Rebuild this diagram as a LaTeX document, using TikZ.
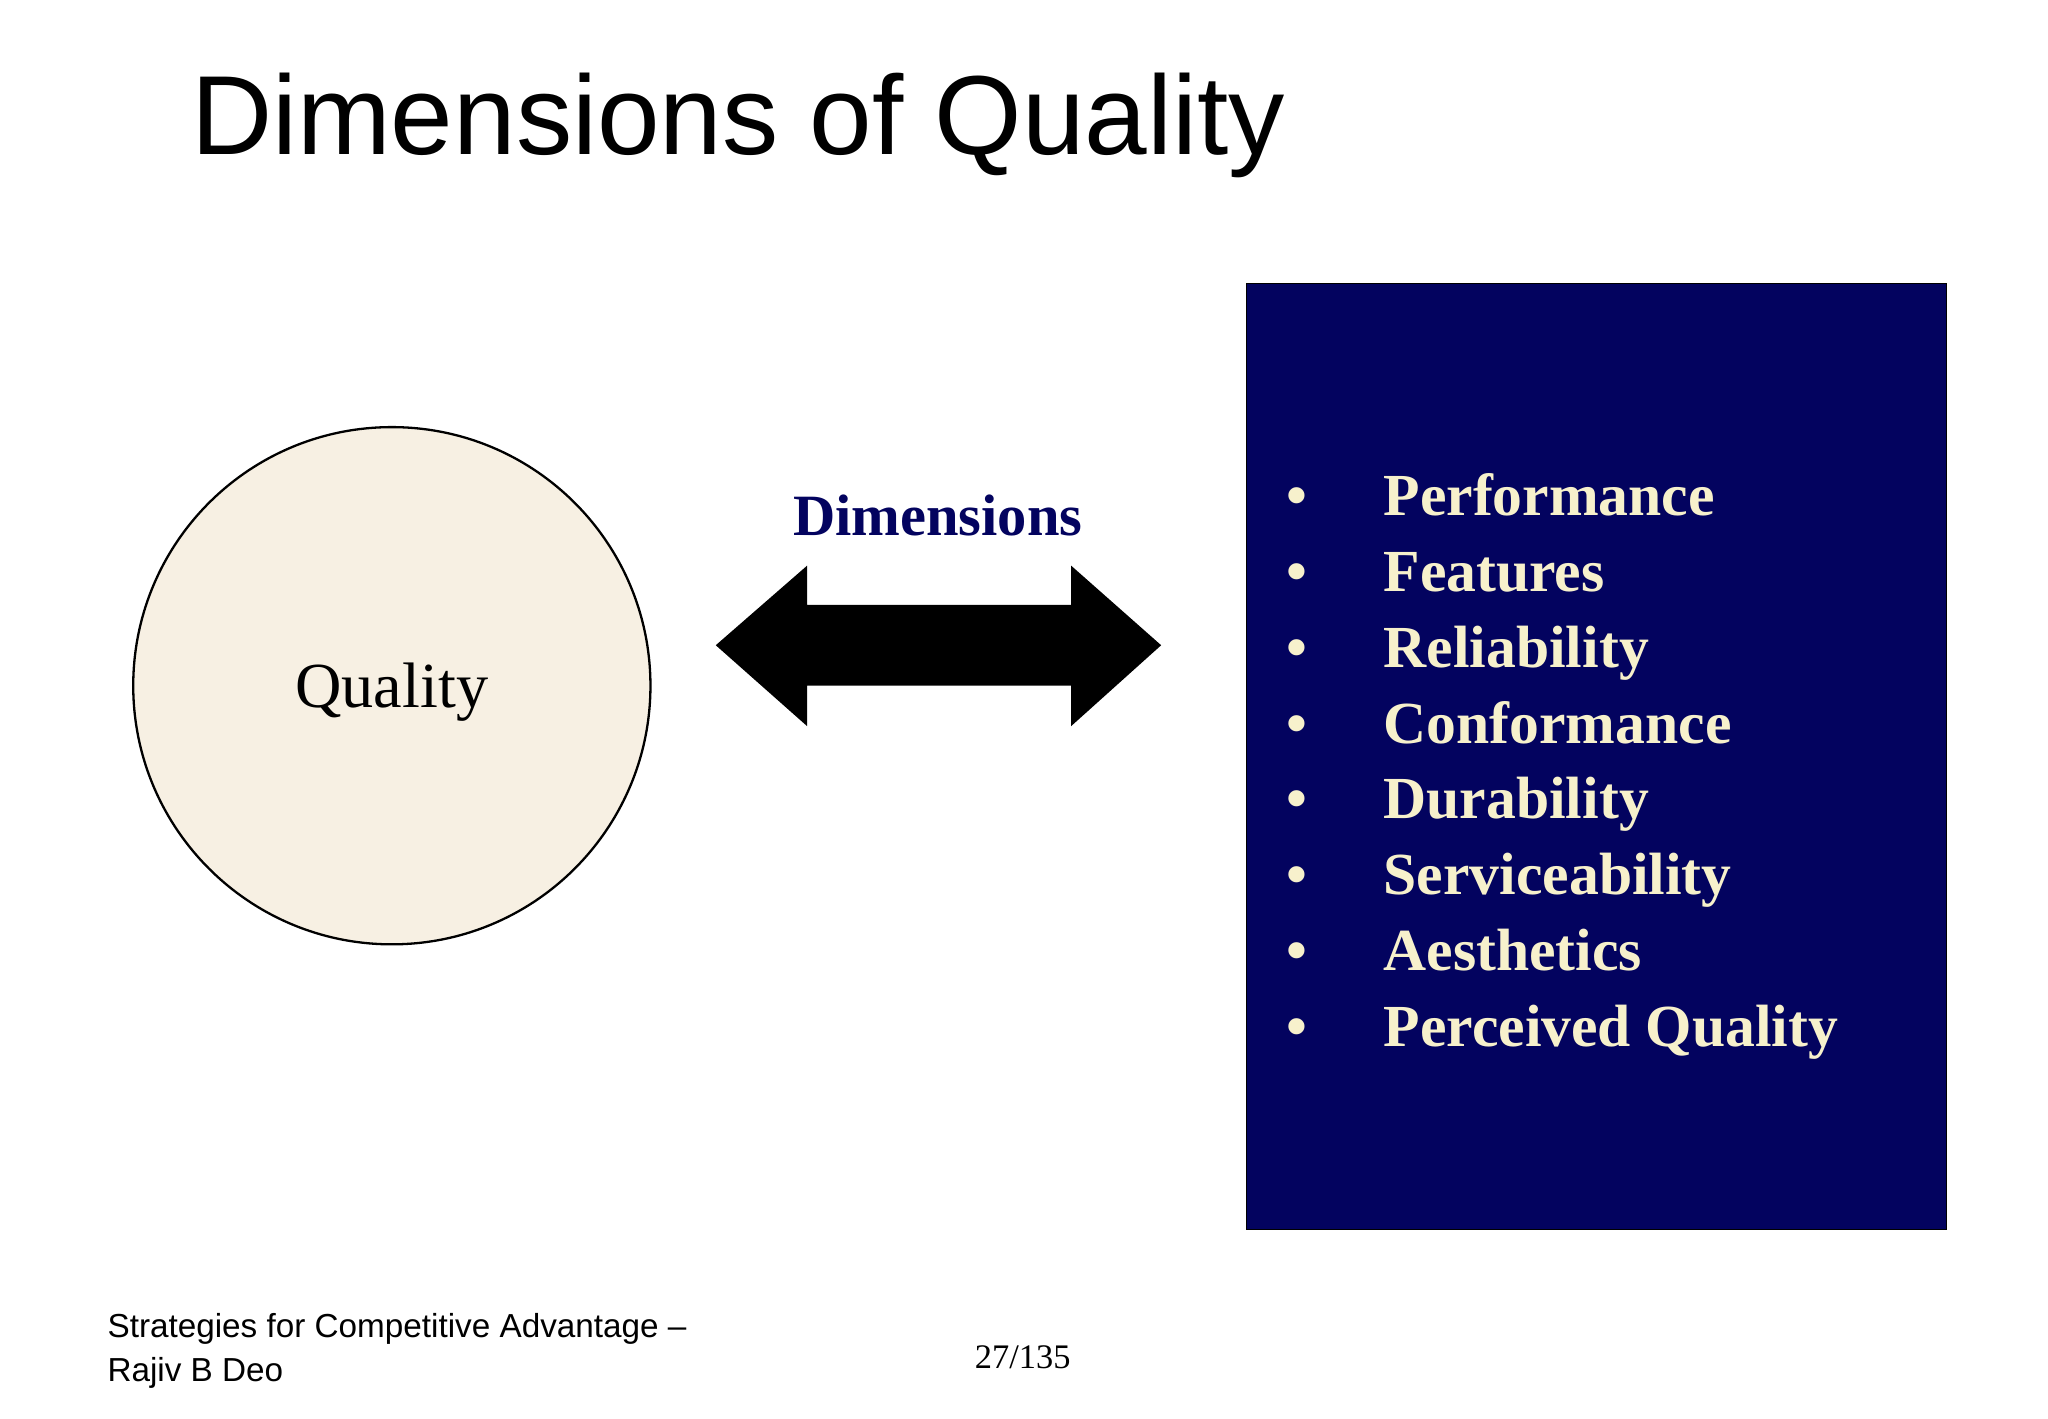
\documentclass[tikz,border=0pt]{standalone}
\usepackage{fontspec}
\setmainfont{Liberation Serif}
\setsansfont{Liberation Sans}
\definecolor{navy}{HTML}{03035F}
\definecolor{cream}{HTML}{F7F0E3}
\definecolor{itemc}{HTML}{F7F1CC}
\begin{document}
\begin{tikzpicture}[x=0.02cm,y=-0.02cm,
  item/.style={anchor=base west,inner sep=0,text=itemc,font=\fontsize{26}{30}\selectfont\bfseries},
  bul/.style={anchor=base,inner sep=0,text=itemc,font=\fontsize{26}{30}\selectfont\bfseries}]
\useasboundingbox (0,0) rectangle (1568,1086);
\node[anchor=base west,inner sep=0,font=\sffamily\fontsize{49}{56}\selectfont] (title) at (146,118) {Dimensions of Quality};
\node[circle,draw,fill=cream,minimum size=396*0.02cm,inner sep=0,line width=1pt] (q) at (300,525) {};
\node[font=\fontsize{28}{32}\selectfont,anchor=base] (ql) at (300,542) {Quality};
\node[font=\fontsize{25.5}{30}\selectfont\bfseries,text=navy,anchor=base] (dl) at (718,410) {Dimensions};
\fill (548,494) -- (618,433) -- (618,463) -- (820,463) -- (820,433) -- (889,494) -- (820,556) -- (820,525) -- (618,525) -- (618,556) -- cycle;
\node[draw=black,fill=navy,minimum width=536*0.02cm,minimum height=724*0.02cm,inner sep=0,anchor=north west] (box) at (954,217) {};
\foreach \t [count=\i] in {Performance,Features,Reliability,Conformance,Durability,Serviceability,Aesthetics,Perceived Quality}{
  \node[bul] (b\i) at (993,395+58*\i-58) {•};
  \node[item] (t\i) at (1059,395+58*\i-58) {\t};
}
\node[anchor=base west,inner sep=0,align=left,font=\sffamily\fontsize{14.5}{17.5}\selectfont] (f1) at (82,1024) {Strategies for Competitive Advantage –};
\node[anchor=base west,inner sep=0,font=\sffamily\fontsize{14.5}{17.5}\selectfont] (f2) at (82,1058) {Rajiv B Deo};
\node[anchor=base,inner sep=0,font=\fontsize{15}{18}\selectfont] (pg) at (783,1048) {27/135};
\end{tikzpicture}
\end{document}
